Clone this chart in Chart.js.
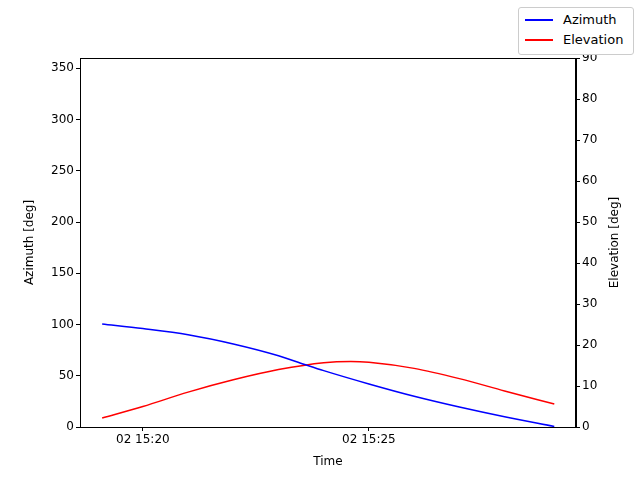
<!DOCTYPE html>
<html><head><script src="https://cdn.jsdelivr.net/npm/chart.js@4"></script>
<style>body{margin:0;background:#fff}#lg{position:absolute;left:518px;top:7px;width:114px;height:46px;border:1px solid #ccc;border-radius:3px;font:13px "DejaVu Sans";background:#fff}
.it{position:absolute;left:6px;display:flex;align-items:center}.it span{display:inline-block;width:28px;height:2px;margin-right:10px}</style></head>
<body><canvas id="c" width="640" height="480"></canvas>
<div id="lg"><div class="it" style="top:4px"><span style="background:#0000ff"></span>Azimuth</div><div class="it" style="top:24px"><span style="background:#ff0000"></span>Elevation</div></div>
<script>
// minutes relative to 02 15:20
const azT=[-0.9,0,1,2,3,3.58,4,5,6,7,8,9.1];
const azV=[100.5,96,90,81,69.5,61,55,42,30,19.5,10,0.5];
const elT=[-0.9,0,1,2,3,4,4.6,5,6,7,8,9.1];
const elV=[2.2,5,8.5,11.5,14,15.7,16,15.8,14.3,11.8,8.8,5.6];
const xTicks=[0,5];const xLabels=['02 15:20','02 15:25'];
const azTicks=[0,50,100,150,200,250,300,350];
const F={family:'DejaVu Sans',size:12};
const ax={color:'#000',font:F};
const deco={id:'deco',afterDraw(c){const g=c.ctx,a=c.chartArea;g.save();g.strokeStyle='#000';g.lineWidth=1;
g.strokeRect(a.left+0.5,a.top+0.5,a.right-a.left-1,a.bottom-a.top);
g.fillStyle='#000';g.font='12px "DejaVu Sans"';g.textAlign='center';g.textBaseline='middle';
g.fillText('Time',(a.left+a.right)/2,462);
g.translate(30,(a.top+a.bottom)/2);g.rotate(-Math.PI/2);g.fillText('Azimuth [deg]',0,0);g.restore();
g.save();g.fillStyle='#000';g.font='12px "DejaVu Sans"';g.textAlign='center';g.textBaseline='middle';
g.translate(615,(a.top+a.bottom)/2);g.rotate(-Math.PI/2);g.fillText('Elevation [deg]',0,0);g.restore();}};
new Chart(document.getElementById('c'),{type:'line',plugins:[deco],
data:{datasets:[
{label:'Azimuth',data:azT.map((t,i)=>({x:t,y:azV[i]})),borderColor:'#0000ff',borderWidth:1.5,pointRadius:0,cubicInterpolationMode:'monotone',yAxisID:'y'},
{label:'Elevation',data:elT.map((t,i)=>({x:t,y:elV[i]})),borderColor:'#ff0000',borderWidth:1.5,pointRadius:0,cubicInterpolationMode:'monotone',yAxisID:'y2'}]},
options:{responsive:false,animation:false,devicePixelRatio:1,layout:{padding:{top:58,left:0,right:0,bottom:0}},
plugins:{legend:{display:false},tooltip:{enabled:false}},
scales:{
x:{type:'linear',min:-1.39,max:9.58,border:{color:'#000'},grid:{drawOnChartArea:false,color:'#000',tickLength:4},
afterBuildTicks:s=>{s.ticks=xTicks.map(v=>({value:v}))},ticks:{...ax,maxRotation:0,padding:2,callback:v=>xLabels[xTicks.indexOf(v)]},
afterFit:s=>{s.height=53}},
y:{position:'left',min:0,max:360,border:{color:'#000'},grid:{drawOnChartArea:false,color:'#000',tickLength:4},
afterBuildTicks:s=>{s.ticks=azTicks.map(v=>({value:v}))},ticks:{...ax,padding:2},afterFit:s=>{s.width=80}},
y2:{position:'right',min:0,max:90,border:{color:'#000'},grid:{drawOnChartArea:false,color:'#000',tickLength:4},
ticks:{...ax,stepSize:10,padding:2},afterFit:s=>{s.width=64}}}}});
</script></body></html>
